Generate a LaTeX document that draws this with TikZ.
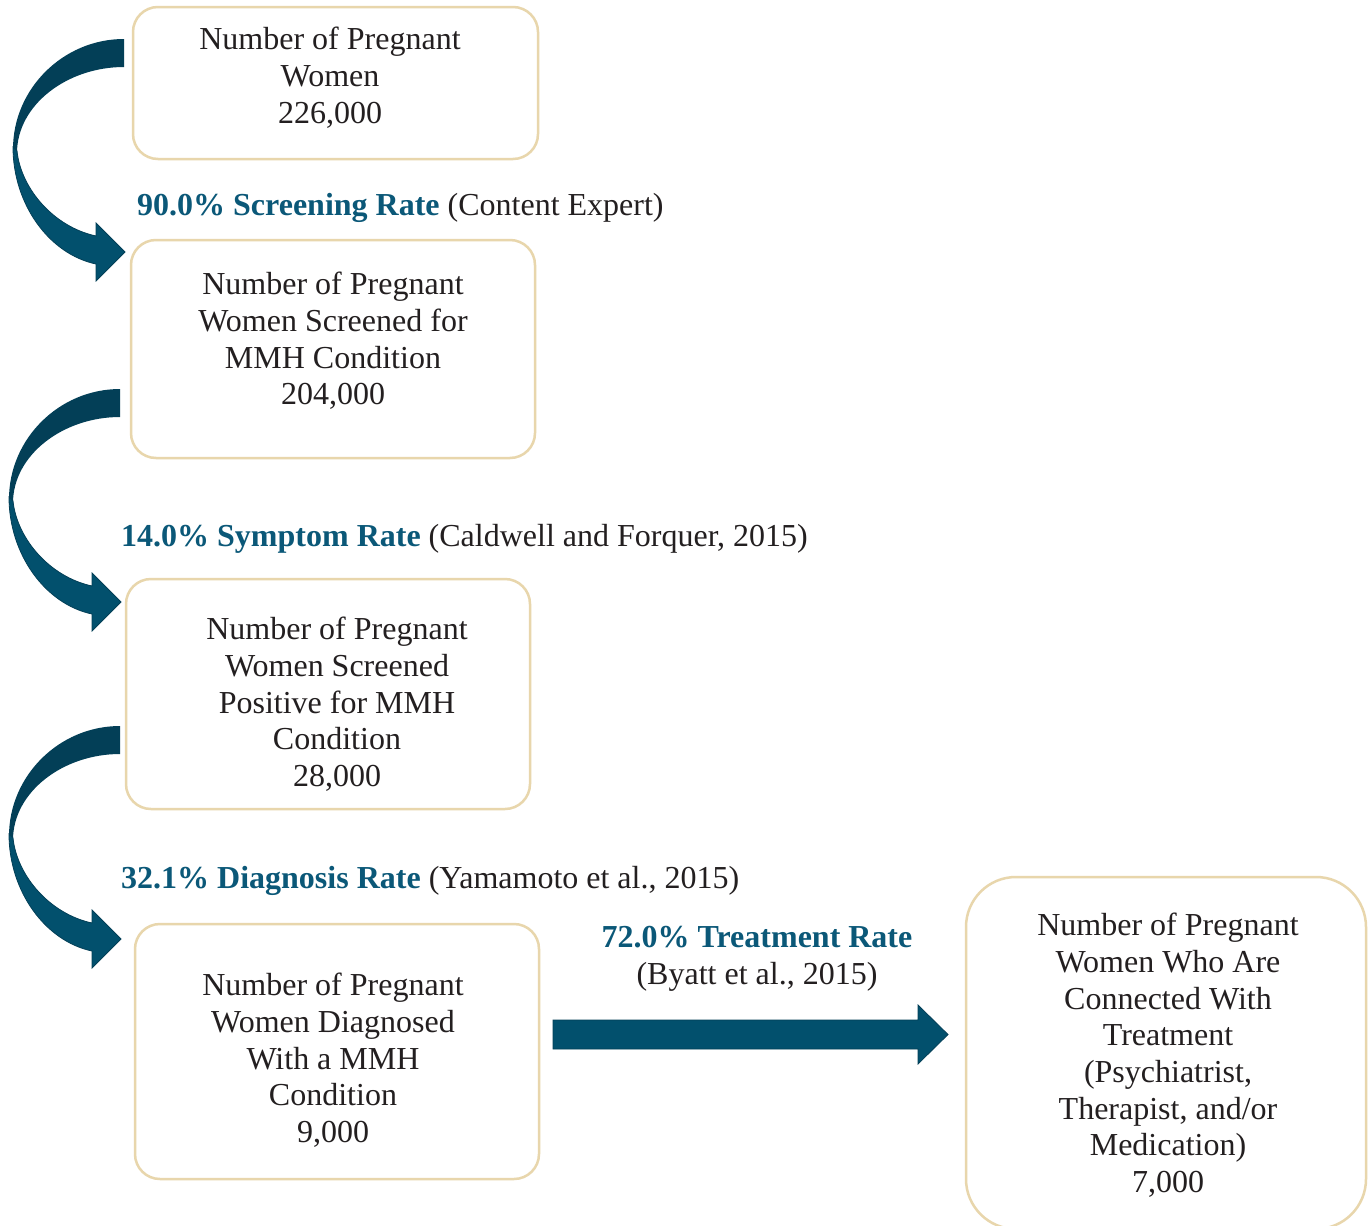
\documentclass[tikz,border=0pt]{standalone}
\usepackage{fontspec}
\setmainfont{Liberation Serif}
\definecolor{boxline}{HTML}{E8D6AC}
\definecolor{arrowfront}{HTML}{02506D}
\definecolor{arrowback}{HTML}{033F57}
\definecolor{ratecol}{HTML}{0B5878}
\definecolor{txt}{HTML}{231F20}
\tikzset{
  flowbox/.style={draw=boxline, line width=2.5pt, rounded corners=25pt, fill=white, inner sep=0pt},
  boxtext/.style={align=center, anchor=north, inner sep=0pt, text=txt, font=\fontsize{32}{36.7}\selectfont},
  ratetext/.style={anchor=base west, inner sep=0pt, text=txt, font=\fontsize{32}{36.7}\selectfont},
  frontband/.style={fill=arrowfront, draw=arrowback, line width=0.8pt},
  pics/curvearrow/.style={code={
    \fill[arrowback] (0,0) .. controls (-61,0) and (-111,50) .. (-111,110)
      -- (-107,114) .. controls (-107,66) and (-57,28) .. (0,28) -- cycle;
    \filldraw[frontband] (-111,108) .. controls (-111,165) and (-75,215) .. (-28,225)
      -- (-28,242) -- (1,213) -- (-28,184) -- (-28,197)
      .. controls (-70,188) and (-103,150) .. (-107,112) -- cycle;
  }}
}
\begin{document}
\begin{tikzpicture}[x=1pt,y=-1pt]
\useasboundingbox (0,0) rectangle (1368,1226);
\fill[white] (0,0) rectangle (1368,1226);

% boxes
\node[flowbox, minimum width=405pt, minimum height=152pt] (b1) at (335.5,83) {};
\node[flowbox, minimum width=404pt, minimum height=218pt] (b2) at (333,349) {};
\node[flowbox, minimum width=404pt, minimum height=230pt] (b3) at (328,694) {};
\node[flowbox, minimum width=404pt, minimum height=255pt] (b4) at (337,1051.5) {};
\node[flowbox, rounded corners=50pt, minimum width=400pt, minimum height=352pt] (b5) at (1166,1053) {};

% box texts
\node[boxtext] (t1) at (330,27) {Number of Pregnant\\Women\\226,000};
\node[boxtext] (t2) at (333,272) {Number of Pregnant\\Women Screened for\\MMH Condition\\204,000};
\node[boxtext] (t3) at (337,617) {Number of Pregnant\\Women Screened\\Positive for MMH\\Condition\\28,000};
\node[boxtext] (t4) at (333,973) {Number of Pregnant\\Women Diagnosed\\With a MMH\\Condition\\9,000};
\node[boxtext] (t5) at (1168,913) {Number of Pregnant\\Women Who Are\\Connected With\\Treatment\\(Psychiatrist,\\Therapist, and/or\\Medication)\\7,000};

% rate labels
\node[ratetext] (r1) at (137,215) {{\bfseries\color{ratecol}90.0\% Screening Rate} (Content Expert)};
\node[ratetext] (r2) at (121,546) {{\bfseries\color{ratecol}14.0\% Symptom Rate} (Caldwell and Forquer, 2015)};
\node[ratetext] (r3) at (121,888) {{\bfseries\color{ratecol}32.1\% Diagnosis Rate} (Yamamoto et al., 2015)};
\node[boxtext, anchor=center] (r4) at (757,959) {{\bfseries\color{ratecol}72.0\% Treatment Rate}\\(Byatt et al., 2015)};

% curved arrows
\pic at (124,39) {curvearrow};
\pic at (120,389) {curvearrow};
\pic at (120,726) {curvearrow};

% straight arrow
\filldraw[frontband] (553,1020) -- (918,1020) -- (918,1005) -- (948,1034.5)
  -- (918,1064) -- (918,1049) -- (553,1049) -- cycle;
\end{tikzpicture}
\end{document}
